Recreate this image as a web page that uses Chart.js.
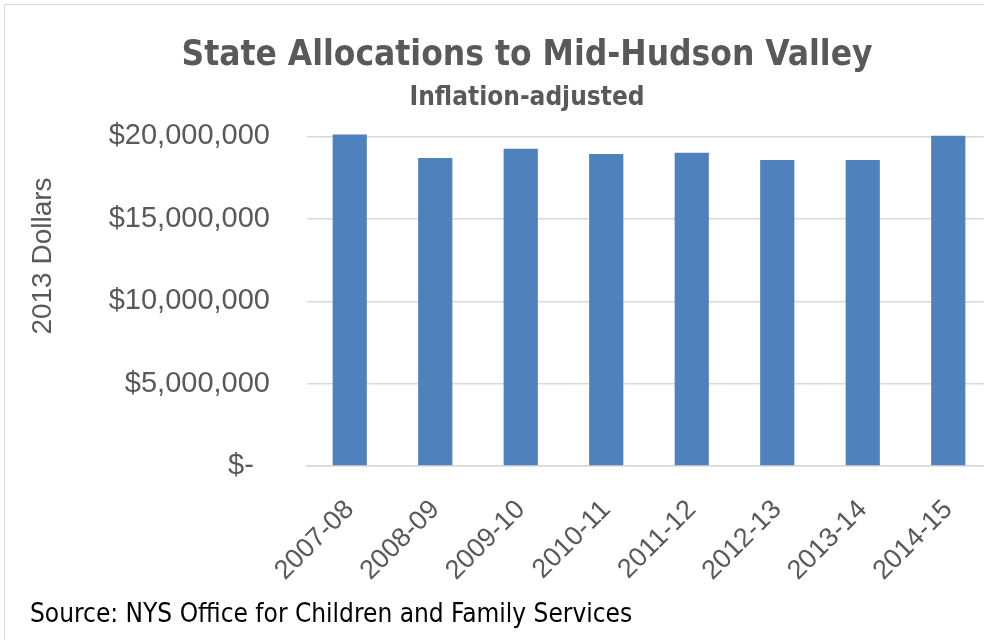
<!DOCTYPE html>
<html>
<head>
<meta charset="utf-8">
<script src="https://cdn.jsdelivr.net/npm/chart.js@4"></script>
<style>
  html, body { margin: 0; padding: 0; background: #fff; overflow: hidden; }
  #frame {
    position: absolute; left: 4px; top: 4px;
    width: 1100px; height: 700px;
    border: 1px solid #d9d9d9;
  }
  #wrap { position: absolute; left: 0; top: 0; width: 1044px; height: 635px; }
  #source {
    position: absolute; left: 25px; top: 593px;
    font-family: "Liberation Sans Narrow", "DejaVu Sans Condensed", sans-serif;
    font-size: 26px; color: #000; white-space: nowrap;
  }
</style>
</head>
<body>
<div id="frame">
  <div id="wrap"><canvas id="chartCanvas"></canvas></div>
  <div id="source">Source: NYS Office for Children and Family Services</div>
</div>
<script>
// fiscal years on the x axis
var years = ['2007-08', '2008-09', '2009-10', '2010-11', '2011-12', '2012-13', '2013-14', '2014-15'];
// state allocations, 2013 dollars
var allocations = [20120000, 18690000, 19260000, 18940000, 19020000, 18570000, 18570000, 20040000];
// y tick values and their labels
var tickValues = [0, 5000000, 10000000, 15000000, 20000000];
var tickLabels = ['$-  ', '$5,000,000', '$10,000,000', '$15,000,000', '$20,000,000'];

var grey = '#595959';
var narrow = '"Liberation Sans Narrow", "DejaVu Sans Condensed", sans-serif';
var plain = '"Liberation Sans", Arial, sans-serif';

// y axis title, drawn beside the axis (Excel puts it a bit above centre)
var yTitlePlugin = {
    id: 'yTitle',
    afterDraw: function(chart) {
        var c = chart.ctx;
        c.save();
        c.translate(38, 251);
        c.rotate(-Math.PI / 2);
        c.fillStyle = grey;
        c.font = '28px ' + plain;
        c.textAlign = 'center';
        c.textBaseline = 'middle';
        c.fillText('2013 Dollars', 0, 0);
        c.restore();
    }
};

var ctx = document.getElementById('chartCanvas').getContext('2d');
var allocChart = new Chart(ctx, {
    type: 'bar',
    data: {
        labels: years,
        datasets: [{
            label: 'State Allocations',
            data: allocations,
            backgroundColor: '#4f81bd',
            borderWidth: 0,
            barPercentage: 0.4,
            categoryPercentage: 1.0
        }]
    },
    plugins: [yTitlePlugin],
    options: {
        responsive: true,
        maintainAspectRatio: false,
        animation: false,
        layout: { padding: { left: 58, right: 58, bottom: 33, top: 0 } },
        plugins: {
            legend: { display: false },
            tooltip: { enabled: false },
            title: {
                display: true,
                text: 'State Allocations to Mid-Hudson Valley',
                color: grey,
                font: { family: narrow, size: 35, weight: 'bold' },
                padding: { top: 30, bottom: 6 }
            },
            subtitle: {
                display: true,
                text: 'Inflation-adjusted',
                color: grey,
                font: { family: narrow, size: 26, weight: 'bold' },
                padding: { top: 0, bottom: 19 }
            }
        },
        scales: {
            x: {
                grid: { display: false },
                border: { display: true, color: '#d9d9d9', width: 1.5 },
                ticks: {
                    color: grey,
                    font: { family: plain, size: 27 },
                    minRotation: 45,
                    maxRotation: 45,
                    padding: 20
                },
                afterFit: function(axis) {
                    axis.paddingLeft = 0;
                    axis.paddingRight = 0;
                }
            },
            y: {
                min: 0,
                max: 20200000,
                grid: { color: '#d9d9d9', lineWidth: 1.5, drawTicks: false },
                border: { display: false },
                afterBuildTicks: function(axis) {
                    axis.ticks = tickValues.map(function(v) { return { value: v }; });
                },
                afterFit: function(axis) {
                    axis.width = 244;
                },
                ticks: {
                    color: grey,
                    font: { family: plain, size: 29 },
                    padding: 37,
                    callback: function(value, index) { return tickLabels[index]; }
                }
            }
        }
    }
});
</script>
</body>
</html>
